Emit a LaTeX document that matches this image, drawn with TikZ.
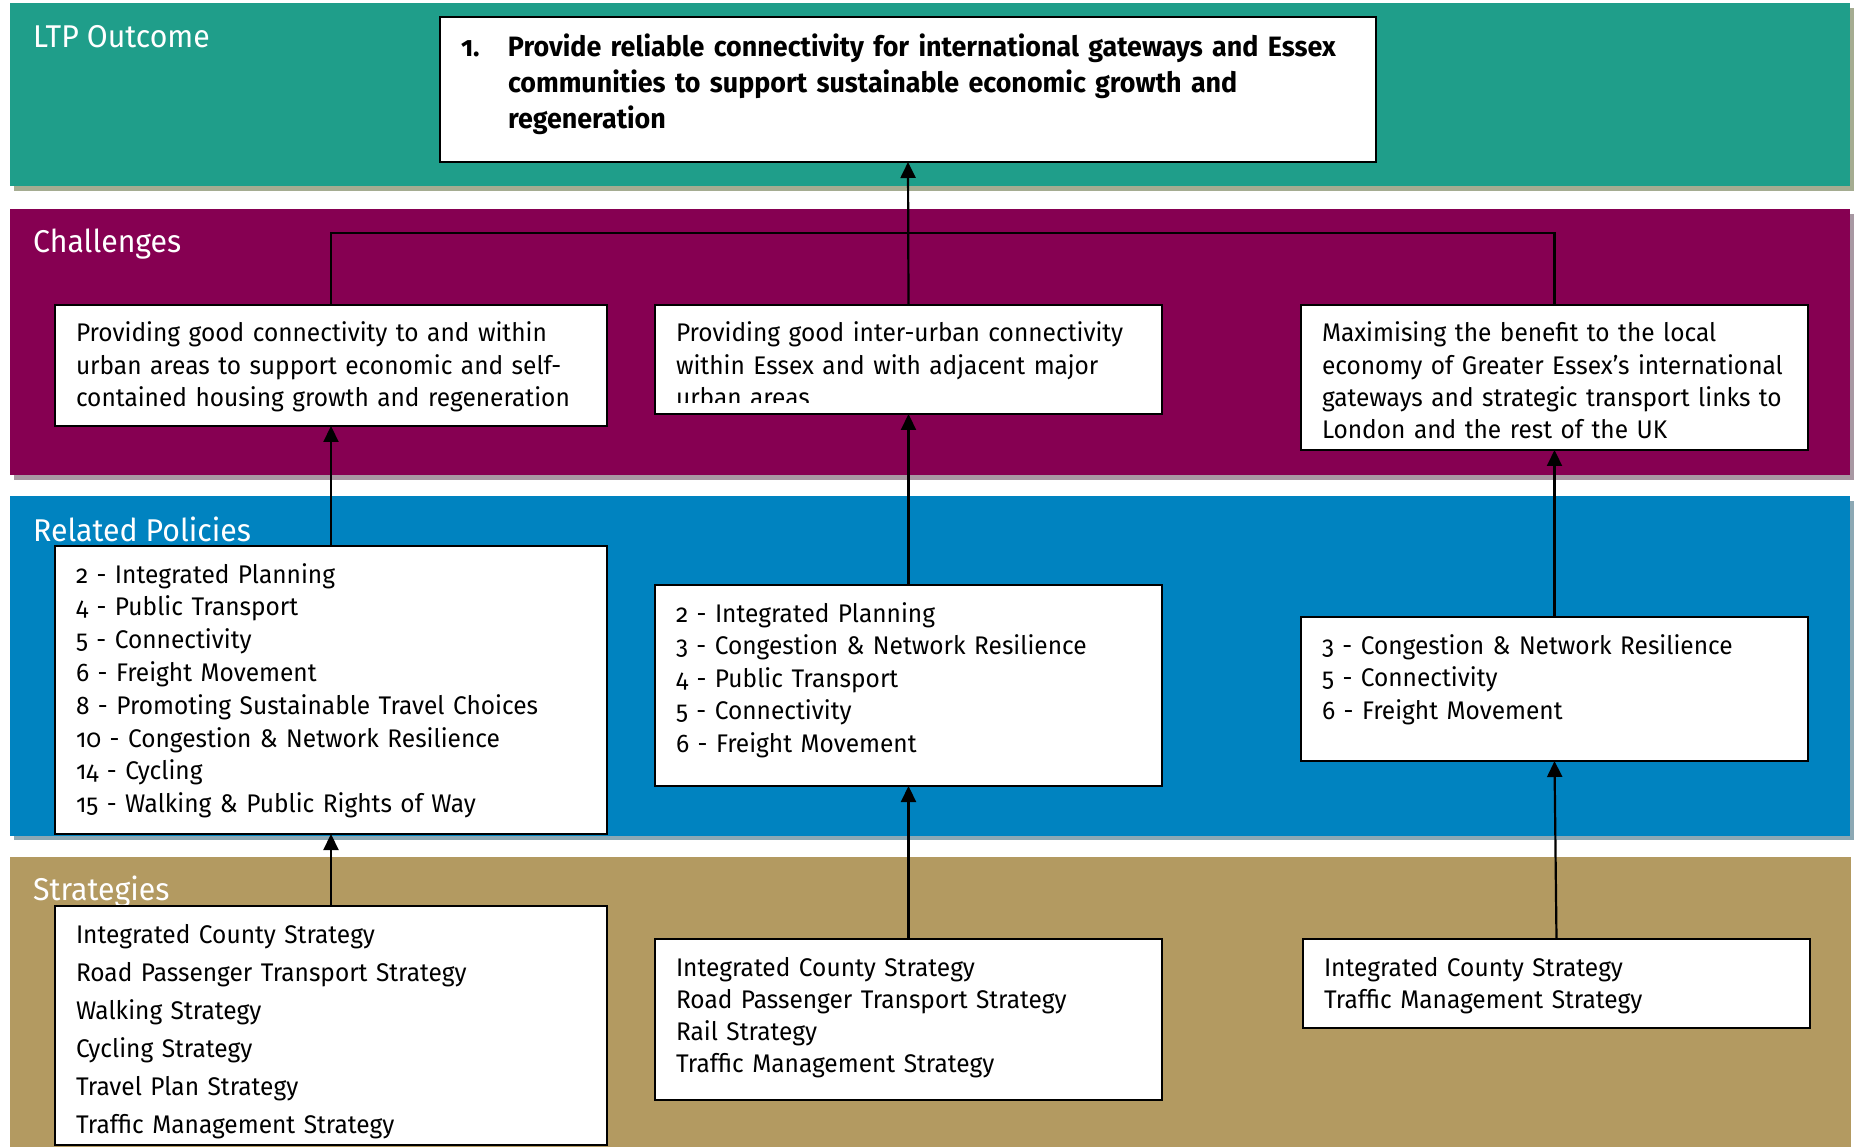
\documentclass[tikz,border=0pt]{standalone}
\usepackage{fontspec}
\setmainfont{Fira Sans}[Numbers=OldStyle, FakeStretch=0.96]
\usetikzlibrary{arrows.meta}
\definecolor{ltpteal}{RGB}{31,158,138}
\definecolor{ltppurple}{RGB}{134,0,82}
\definecolor{ltpblue}{RGB}{0,131,192}
\definecolor{ltptan}{RGB}{179,154,97}
\definecolor{shteal}{RGB}{165,172,145}
\definecolor{shpurple}{RGB}{168,152,163}
\definecolor{shblue}{RGB}{140,168,180}
\tikzset{
  hdr/.style={anchor=base west, text=white, inner sep=0pt, font=\fontsize{31.5}{36}\selectfont},
  box/.style={draw=black, line width=2.4pt, fill=white, inner sep=0pt, outer sep=0pt, anchor=north west},
  boxtext/.style={anchor=base west, inner sep=0pt, align=left, text width=1000pt},
  conn/.style={line width=2.2pt, draw=black},
  arr/.style={conn, -{Triangle[width=15pt,length=16pt]}},
}
% name, x, y, w, h, baselineskip, text
\newcommand\tbox[7]{%
  \node[box, minimum width=#4pt, minimum height=#5pt,
    path picture={\node[boxtext, font=\fontsize{25.5}{#6}\selectfont]
      at ([xshift=21pt,yshift=-37pt]path picture bounding box.north west) {#7};}]
    (#1) at (#2,#3) {};}
\begin{document}
\begin{tikzpicture}[x=1pt,y=-1pt]
\useasboundingbox (0,0) rectangle (1856,1147);
% bands with shadows
\fill[shteal] (14,8) rectangle (1854,191);
\fill[ltpteal] (10,3) rectangle (1850,186);
\fill[shpurple] (14,214) rectangle (1854,480);
\fill[ltppurple] (10,209) rectangle (1850,475);
\fill[shblue] (14,501) rectangle (1854,840);
\fill[ltpblue] (10,496) rectangle (1850,836);
\fill[ltptan] (10,857) rectangle (1851,1147);
% headers
\node[hdr] (hltp) at (33,48) {LTP Outcome};
\node[hdr] (hch) at (33,253) {Challenges};
\node[hdr] (hpol) at (33,541) {Related Policies};
\node[hdr] (hstr) at (33,900) {Strategies};
% outcome
\node[box, minimum width=936pt, minimum height=145pt,
  path picture={
    \node[boxtext, font=\bfseries\fontsize{28}{35.7}\selectfont]
      at ([xshift=21pt,yshift=-40pt]path picture bounding box.north west)
      {\makebox[47pt][l]{1.}Provide reliable connectivity for international gateways and Essex\\
       \hspace*{47pt}communities to support sustainable economic growth and\\
       \hspace*{47pt}regeneration};}] (out) at (440,17) {};
% challenges
\tbox{c1}{55}{305}{552}{121}{32.3}{Providing good connectivity to and within\\
urban areas to support economic and self-\\
contained housing growth and regeneration}
\node[box, minimum width=507pt, minimum height=109pt,
  path picture={
    \clip ([yshift=11pt]path picture bounding box.south west) rectangle (path picture bounding box.north east);
    \node[boxtext, font=\fontsize{25.5}{32.3}\selectfont]
      at ([xshift=21pt,yshift=-37pt]path picture bounding box.north west)
      {Providing good inter-urban connectivity\\
       within Essex and with adjacent major\\
       urban areas};}] (c2) at (655,305) {};
\tbox{c3}{1301}{305}{507}{145}{32.3}{Maximising the benefit to the local\\
economy of Greater Essex’s international\\
gateways and strategic transport links to\\
London and the rest of the UK}
% policies
\tbox{p1}{55}{546}{552}{288}{32.8}{2 - Integrated Planning\\
4 - Public Transport\\
5 - Connectivity\\
6 - Freight Movement\\
8 - Promoting Sustainable Travel Choices\\
10 - Congestion \& Network Resilience\\
14 - Cycling\\
15 - Walking \& Public Rights of Way}
\tbox{p2}{655}{585}{507}{201}{32.6}{2 - Integrated Planning\\
3 - Congestion \& Network Resilience\\
4 - Public Transport\\
5 - Connectivity\\
6 - Freight Movement}
\tbox{p3}{1301}{617}{507}{144}{32.5}{3 - Congestion \& Network Resilience\\
5 - Connectivity\\
6 - Freight Movement}
% strategies
\tbox{s1}{55}{906}{552}{239}{38.1}{Integrated County Strategy\\
Road Passenger Transport Strategy\\
Walking Strategy\\
Cycling Strategy\\
Travel Plan Strategy\\
Traffic Management Strategy}
\tbox{s2}{655}{939}{507}{161}{32.3}{Integrated County Strategy\\
Road Passenger Transport Strategy\\
Rail Strategy\\
Traffic Management Strategy}
\tbox{s3}{1303}{939}{507}{89}{32}{Integrated County Strategy\\
Traffic Management Strategy}
% connectors
\coordinate (bus) at (908,233);
\draw[conn] (c1.north) |- (bus) -| (c3.north);
\draw[arr] (c2.north) -- (out.south);
\draw[arr] (p1.north) -- (c1.south);
\draw[arr] (p2.north) -- (c2.south);
\draw[arr] (p3.north) -- (c3.south);
\draw[arr] (s1.north) -- (p1.south);
\draw[arr] (s2.north) -- (p2.south);
\draw[arr] (s3.north) -- (p3.south);
\end{tikzpicture}
\end{document}
